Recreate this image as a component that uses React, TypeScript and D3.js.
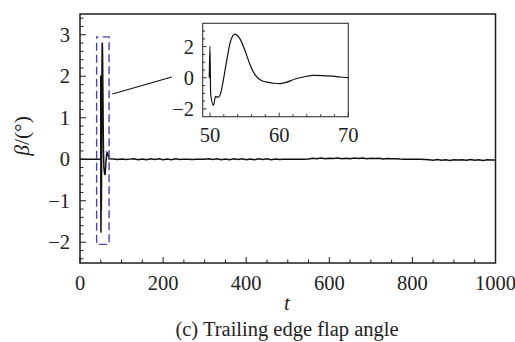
import React from "react";
import * as d3 from "d3";

// Transient response (t, beta in degrees)
const transientT = [0, 49.9, 50.0, 50.1, 50.5, 50.8, 51.2, 51.6, 51.9, 52.4, 52.9, 53.3, 53.6, 54.0, 54.4, 55.1, 55.8, 56.5, 57.5, 58.5, 59.2, 60.1, 61.0, 62.3, 63.5, 65.0, 66.4, 68.3, 70.0];
const transientBeta = [0, 0, 2.02, -1.04, -1.77, -1.21, -1.25, -0.91, -0.23, 1.06, 2.23, 2.7, 2.81, 2.7, 2.45, 1.7, 0.84, 0.2, -0.19, -0.3, -0.35, -0.38, -0.3, -0.08, 0.05, 0.16, 0.14, 0.08, 0.01];

// Steady part: beta sampled every 10 time units from t = 80 to 1000
const steadyStart = 80;
const steadyStep = 10;
const steadyBeta = [
  0.006, -0.004, 0.005, -0.006, 0.003,
  0.01, -0.012, 0.006, -0.01, 0.014, -0.006, 0.01, -0.014, 0.004, -0.01, 0.012, -0.004,
  0.003, 0, -0.003, 0.002, 0, 0.002,
  0.01, -0.006, 0.012, -0.01, 0.006, -0.012, 0.014, -0.004, 0.01, -0.01, 0.004, -0.012, 0.01, -0.006, 0.012, -0.01, 0.006, -0.004,
  0.002, -0.002, 0.001, 0, -0.001, 0.002, 0.005,
  0.022, 0.014, 0.03, 0.012, 0.026, 0.016, 0.032, 0.01, 0.025, 0.014, 0.028, 0.018, 0.03, 0.012, 0.022, 0.016, 0.024, 0.008, 0.018, 0.01, 0.012,
  0.004, 0.002, -0.002, 0.002, -0.002, 0, -0.004,
  -0.012, -0.024, -0.008, -0.022, -0.012, -0.028, -0.01, -0.02, -0.014, -0.026, -0.008, -0.022, -0.014, -0.028, -0.01, -0.02, -0.018,
];

const mainXTicks = [0, 200, 400, 600, 800, 1000];
const mainYTicks = [-2, -1, 0, 1, 2, 3];
const insetXTicks = [50, 60, 70];
const insetYTicks = [-2, 0, 2];

// Zoom box and connector (data coords of main axes)
const zoomBoxT = [40, 70];
const zoomBoxBeta = [-2.05, 2.95];
const connectorT = [78, 221];
const connectorBeta = [1.57, 1.98];

const FONT = "'Liberation Serif', 'Times New Roman', serif";

export default function App() {
  const data = [
    ...transientT.map((t, i) => ({ t, b: transientBeta[i] })),
    ...steadyBeta.map((b, i) => ({ t: steadyStart + i * steadyStep, b })),
  ];

  const x = d3.scaleLinear().domain([0, 1000]).range([80, 495.5]);
  const y = d3.scaleLinear().domain([-2.5, 3.5]).range([263, 14]);

  const ix = d3.scaleLinear().domain([48.95, 70]).range([202.7, 348.3]);
  const iy = d3.scaleLinear().domain([-2.5, 3.5]).range([116.7, 23.3]);

  const mainLine = d3
    .line<{ t: number; b: number }>()
    .x((d) => x(d.t))
    .y((d) => y(d.b))
    .curve(d3.curveLinear)(data) as string;

  const insetData = data.filter((d) => d.t >= 40 && d.t <= 80);
  const insetLine = d3
    .line<{ t: number; b: number }>()
    .x((d) => ix(d.t))
    .y((d) => iy(d.b))
    .curve(d3.curveMonotoneX)(insetData) as string;

  const xMinor = d3.range(0, 1001, 50);
  const yMinor = d3.range(-24, 35, 2).map((v) => v / 10);
  const ixMinor = d3.range(50, 71, 2);
  const iyMinor = d3.range(-4, 7, 1).map((v) => v / 2);

  const frame = "#1e1e1e";
  const [x0, x1] = x.range();
  const [y0, y1] = y.range();

  return (
    <svg
      width={515}
      height={342}
      style={{ position: "absolute", left: 0, top: 0, background: "#fff" }}
      fontFamily={FONT}
    >
      <defs>
        <clipPath id="mainClip">
          <rect x={x0} y={y1} width={x1 - x0} height={y0 - y1} />
        </clipPath>
        <clipPath id="insetClip">
          <rect x={ix.range()[0]} y={iy.range()[1]} width={ix.range()[1] - ix.range()[0]} height={iy.range()[0] - iy.range()[1]} />
        </clipPath>
      </defs>
      <rect width={515} height={342} fill="#fff" />

      {/* main data */}
      <path d={mainLine} fill="none" stroke="#111" strokeWidth={1.5} clipPath="url(#mainClip)" />

      {/* zoom box */}
      <rect
        x={x(zoomBoxT[0])}
        y={y(zoomBoxBeta[1])}
        width={x(zoomBoxT[1]) - x(zoomBoxT[0])}
        height={y(zoomBoxBeta[0]) - y(zoomBoxBeta[1])}
        fill="none"
        stroke="#4646a6"
        strokeWidth={1.4}
        strokeDasharray="8 4"
        strokeDashoffset={6}
      />
      {/* connector */}
      <line
        x1={x(connectorT[0])}
        y1={y(connectorBeta[0])}
        x2={x(connectorT[1])}
        y2={y(connectorBeta[1])}
        stroke="#111"
        strokeWidth={1.1}
      />

      {/* main ticks */}
      {xMinor.map((v) => {
        const major = v % 200 === 0;
        return <line key={"xm" + v} x1={x(v)} x2={x(v)} y1={y0} y2={y0 - (major ? 6 : 3.5)} stroke={frame} strokeWidth={1} />;
      })}
      {yMinor.map((v) => {
        const major = Math.abs(v - Math.round(v)) < 1e-6;
        return <line key={"ym" + v} x1={x0} x2={x0 + (major ? 6 : 3.5)} y1={y(v)} y2={y(v)} stroke={frame} strokeWidth={1} />;
      })}
      <rect x={x0} y={y1} width={x1 - x0} height={y0 - y1} fill="none" stroke={frame} strokeWidth={1.5} />

      {mainXTicks.map((v) => (
        <text key={"xl" + v} x={x(v)} y={290} textAnchor="middle" fontSize={20.5} fill="#222">
          {v}
        </text>
      ))}
      {mainYTicks.map((v) => (
        <text key={"yl" + v} x={70} y={y(v)} dy="0.34em" textAnchor="end" fontSize={20.5} fill="#222">
          {v < 0 ? "\u2212" + Math.abs(v) : v}
        </text>
      ))}

      <text x={287} y={310} textAnchor="middle" fontSize={21} fontStyle="italic" fill="#222">
        t
      </text>
      <text transform="translate(29,136) rotate(-90)" textAnchor="middle" fontSize={21.5} fill="#222">
        <tspan fontStyle="italic">β</tspan>/(°)
      </text>
      <text x={287} y={336} textAnchor="middle" fontSize={20.5} fill="#222">
        (c) Trailing edge flap angle
      </text>

      {/* inset */}
      <rect x={ix.range()[0]} y={iy.range()[1]} width={ix.range()[1] - ix.range()[0]} height={iy.range()[0] - iy.range()[1]} fill="#fff" />
      <path d={insetLine} fill="none" stroke="#111" strokeWidth={1.2} clipPath="url(#insetClip)" />
      {ixMinor.map((v) => {
        const major = v % 10 === 0;
        return <line key={"ixm" + v} x1={ix(v)} x2={ix(v)} y1={iy.range()[0]} y2={iy.range()[0] - (major ? 4 : 2.5)} stroke="#333" strokeWidth={1} />;
      })}
      {iyMinor.map((v) => {
        const major = v % 2 === 0;
        return <line key={"iym" + v} x1={ix.range()[0]} x2={ix.range()[0] + (major ? 4 : 2.5)} y1={iy(v)} y2={iy(v)} stroke="#333" strokeWidth={1} />;
      })}
      <rect x={ix.range()[0]} y={iy.range()[1]} width={ix.range()[1] - ix.range()[0]} height={iy.range()[0] - iy.range()[1]} fill="none" stroke="#333" strokeWidth={1.1} />
      {insetXTicks.map((v) => (
        <text key={"ixl" + v} x={ix(v)} y={142} textAnchor="middle" fontSize={20.5} fill="#222">
          {v}
        </text>
      ))}
      {insetYTicks.map((v) => (
        <text key={"iyl" + v} x={194} y={iy(v)} dy="0.34em" textAnchor="end" fontSize={20.5} fill="#222">
          {v < 0 ? "\u2212" + Math.abs(v) : v}
        </text>
      ))}
    </svg>
  );
}
